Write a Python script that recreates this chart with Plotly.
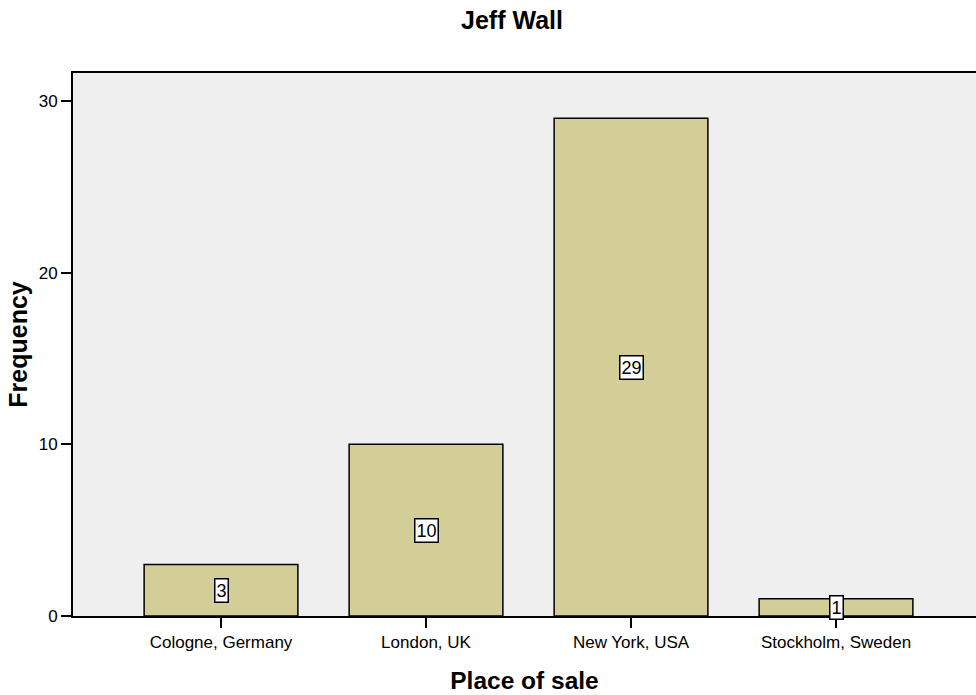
import plotly.graph_objects as go

# Sales of Jeff Wall works by location
places = ["Cologne, Germany", "London, UK", "New York, USA", "Stockholm, Sweden"]
counts = [3, 10, 29, 1]
y_ticks = [0, 10, 20, 30]

FONT = "Liberation Sans, Arial, sans-serif"
BAR = "#d3ce98"
BG = "#efefef"

fig = go.Figure()
fig.add_trace(go.Bar(
    x=list(range(len(places))),
    y=counts,
    width=0.75,
    marker=dict(color=BAR, line=dict(color="black", width=1.5)),
    hoverinfo="skip",
))

# value labels centred inside each bar
for i, c in enumerate(counts):
    fig.add_annotation(
        x=i, y=c / 2, text=str(c), showarrow=False,
        font=dict(family=FONT, size=18, color="black"),
        bgcolor="white", bordercolor="black", borderwidth=1.5, borderpad=1,
    )

fig.update_layout(
    width=976, height=695,
    margin=dict(l=73, r=0, t=73, b=79),
    paper_bgcolor="white",
    plot_bgcolor=BG,
    showlegend=False,
    title=dict(text="<b>Jeff Wall</b>", x=512 / 976, xanchor="center",
               y=1 - 20 / 695, yanchor="middle",
               font=dict(family=FONT, size=25, color="black")),
    font=dict(family=FONT, color="black"),
)

fig.update_xaxes(
    range=[-0.722, -0.722 + 903 / 205],
    tickvals=list(range(len(places))), ticktext=places,
    ticks="outside", ticklen=10, tickwidth=2, tickcolor="black",
    showline=True, linecolor="black", linewidth=2, mirror=True,
    showgrid=False, zeroline=False,
    tickfont=dict(family=FONT, size=17, color="black"),
    title=dict(text="<b>Place of sale</b>", standoff=20,
               font=dict(family=FONT, size=24.5, color="black")),
)
fig.update_yaxes(
    range=[0, 31.63],
    tickvals=y_ticks,
    ticks="outside", ticklen=10, tickwidth=2, tickcolor="black",
    showline=True, linecolor="black", linewidth=2,
    showgrid=False, zeroline=False,
    tickfont=dict(family=FONT, size=17, color="black"),
    title=dict(text="<b>Frequency</b>", standoff=4,
               font=dict(family=FONT, size=25, color="black")),
)

fig.write_html("out.html")
